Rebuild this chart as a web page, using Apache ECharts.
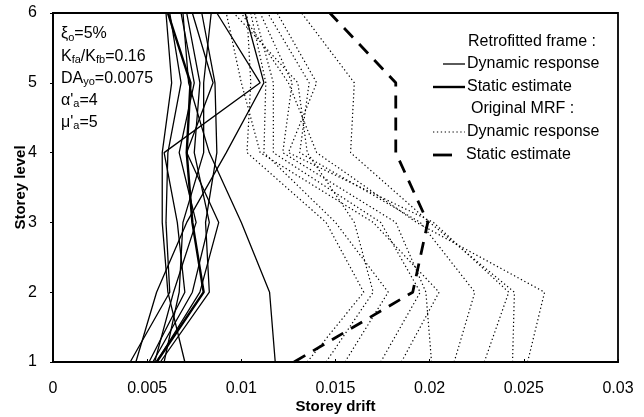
<!DOCTYPE html>
<html>
<head>
<meta charset="utf-8">
<script src="https://cdn.jsdelivr.net/npm/echarts@6/dist/echarts.min.js"></script>
<style>
  html, body { margin: 0; padding: 0; background: #fff; }
  #chart { width: 644px; height: 417px; }
</style>
</head>
<body>
<div id="chart"></div>
<script>
// --- data (storey level 1..6, drift values) ---
const levels = [1, 2, 3, 4, 5, 6];
const xTicks = ['0', '0.005', '0.01', '0.015', '0.02', '0.025', '0.03'];

// retrofitted frame, dynamic response (thin solid)
const retroDyn = [
  [0.0070, 0.0061, 0.0058, 0.0058, 0.0063, 0.0060],
  [0.0041, 0.0062, 0.0060, 0.0061, 0.0068, 0.0062],
  [0.0118, 0.0115, 0.0100, 0.0083, 0.0072, 0.0069],
  [0.0044, 0.0055, 0.0071, 0.0092, 0.0112, 0.0102],
  [0.0051, 0.0070, 0.0066, 0.0059, 0.0110, 0.0087],
  [0.0053, 0.0074, 0.0083, 0.0075, 0.0078, 0.0071],
  [0.0055, 0.0078, 0.0088, 0.0071, 0.0085, 0.0074],
  [0.0057, 0.0083, 0.0081, 0.0087, 0.0086, 0.0079],
  [0.0059, 0.0067, 0.0069, 0.0080, 0.0080, 0.0084],
  [0.0054, 0.0064, 0.0076, 0.0067, 0.0075, 0.0068]
];
// retrofitted frame, static estimate (thick solid)
const retroStatic = [0.0055, 0.0080, 0.0074, 0.0071, 0.0073, 0.0061];

// original MRF, dynamic response (dotted)
const mrfDyn = [
  [0.0135, 0.0165, 0.0145, 0.0103, 0.0105, 0.0103],
  [0.0155, 0.0178, 0.0150, 0.0112, 0.0113, 0.0105],
  [0.0174, 0.0195, 0.0174, 0.0117, 0.0117, 0.0107],
  [0.0201, 0.0198, 0.0182, 0.0122, 0.0127, 0.0110],
  [0.0213, 0.0224, 0.0195, 0.0131, 0.0136, 0.0114],
  [0.0229, 0.0242, 0.0202, 0.0125, 0.0140, 0.0119],
  [0.0244, 0.0245, 0.0200, 0.0158, 0.0160, 0.0132],
  [0.0252, 0.0261, 0.0193, 0.0140, 0.0125, 0.0100],
  [0.0185, 0.0205, 0.0170, 0.0110, 0.0100, 0.0092],
  [0.0145, 0.0170, 0.0160, 0.0135, 0.0130, 0.0096]
];
// original MRF, static estimate (thick dashed)
const mrfStatic = [0.0128, 0.0191, 0.0199, 0.0182, 0.0182, 0.0147];

const FONT = 'Liberation Sans, Arial, sans-serif';

function pairs(xs) {
  return xs.map((x, i) => [x, levels[i]]);
}

const series = [];
mrfDyn.forEach(function (xs) {
  series.push({ type: 'line', data: pairs(xs), symbol: 'none', silent: true,
    lineStyle: { color: '#000', width: 1.2, type: [1.3, 2.6] } });
});
series.push({ type: 'line', data: pairs(mrfStatic), symbol: 'none', silent: true,
  lineStyle: { color: '#000', width: 2.8, type: [13, 9] } });
retroDyn.forEach(function (xs) {
  series.push({ type: 'line', data: pairs(xs), symbol: 'none', silent: true,
    lineStyle: { color: '#000', width: 1.3 } });
});
series.push({ type: 'line', data: pairs(retroStatic), symbol: 'none', silent: true,
  lineStyle: { color: '#000', width: 2.4 } });

const rich = {
  n: { fontSize: 16, fontFamily: FONT, color: '#000', lineHeight: 22 },
  s: { fontSize: 11, fontFamily: FONT, color: '#000', lineHeight: 22, padding: [7, 0, 0, 0] }
};
const notes = [
  '{n|ξ}{s|o}{n|=5%}',
  '{n|K}{s|fa}{n|/K}{s|fb}{n|=0.16}',
  '{n|DA}{s|yo}{n|=0.0075}',
  "{n|α'}{s|a}{n|=4}",
  "{n|μ'}{s|a}{n|=5}"
];

const graphic = [];
notes.forEach(function (t, i) {
  graphic.push({ type: 'text', left: 61, top: 25 + i * 22.2,
    style: { text: t, rich: rich, fill: '#000' } });
});

// legend block
const legText = { fontSize: 16, fontFamily: FONT, fill: '#000' };
function legLine(y, x1, x2, ls) {
  graphic.push({ type: 'line', shape: { x1: x1, y1: y, x2: x2, y2: y }, style: ls });
}
function legLabel(x, y, txt) {
  graphic.push({ type: 'text', x: x, y: y,
    style: Object.assign({ text: txt, verticalAlign: 'middle' }, legText) });
}
legLabel(468, 42, 'Retrofitted frame :');
legLine(64, 443, 465, { stroke: '#000', lineWidth: 1.3 });
legLabel(467, 64, 'Dynamic response');
legLine(87, 433, 465, { stroke: '#000', lineWidth: 2.4 });
legLabel(467, 87, 'Static estimate');
legLabel(471, 109, 'Original MRF :');
legLine(132, 433, 465, { stroke: '#000', lineWidth: 1.2, lineDash: [1.3, 2.6] });
legLabel(467, 132, 'Dynamic response');
legLine(155, 433, 452, { stroke: '#000', lineWidth: 2.8 });
legLabel(466, 155, 'Static estimate');

const chart = echarts.init(document.getElementById('chart'), null, { renderer: 'canvas' });
chart.setOption({
  animation: false,
  backgroundColor: '#fff',
  grid: { left: 53, right: 26, top: 13, bottom: 55, show: true, containLabel: false,
    outerBoundsMode: 'none',
    borderColor: '#000', borderWidth: 1.8, backgroundColor: 'transparent' },
  xAxis: {
    type: 'value', min: 0, max: 0.03, interval: 0.005,
    name: 'Storey drift', nameLocation: 'middle', nameGap: 37, nameMoveOverlap: false,
    nameTextStyle: { fontFamily: FONT, fontSize: 15, fontWeight: 'bold', color: '#000' },
    axisLine: { show: true, lineStyle: { color: '#000', width: 1.8 } },
    axisTick: { show: true, inside: true, length: 3, lineStyle: { color: '#000' } },
    splitLine: { show: false },
    axisLabel: { fontFamily: FONT, fontSize: 16, color: '#000', margin: 19,
      formatter: function (v) { return xTicks[Math.round(v / 0.005)]; } }
  },
  yAxis: {
    type: 'value', min: 1, max: 6, interval: 1,
    name: 'Storey level', nameLocation: 'middle', nameGap: 25, nameRotate: 90,
    nameMoveOverlap: false,
    nameTextStyle: { fontFamily: FONT, fontSize: 15, fontWeight: 'bold', color: '#000' },
    axisLine: { show: true, lineStyle: { color: '#000', width: 1.8 } },
    axisTick: { show: true, inside: false, length: 3, lineStyle: { color: '#000' } },
    splitLine: { show: false },
    axisLabel: { fontFamily: FONT, fontSize: 16, color: '#000', margin: 16 }
  },
  series: series,
  graphic: graphic
});
</script>
</body>
</html>
